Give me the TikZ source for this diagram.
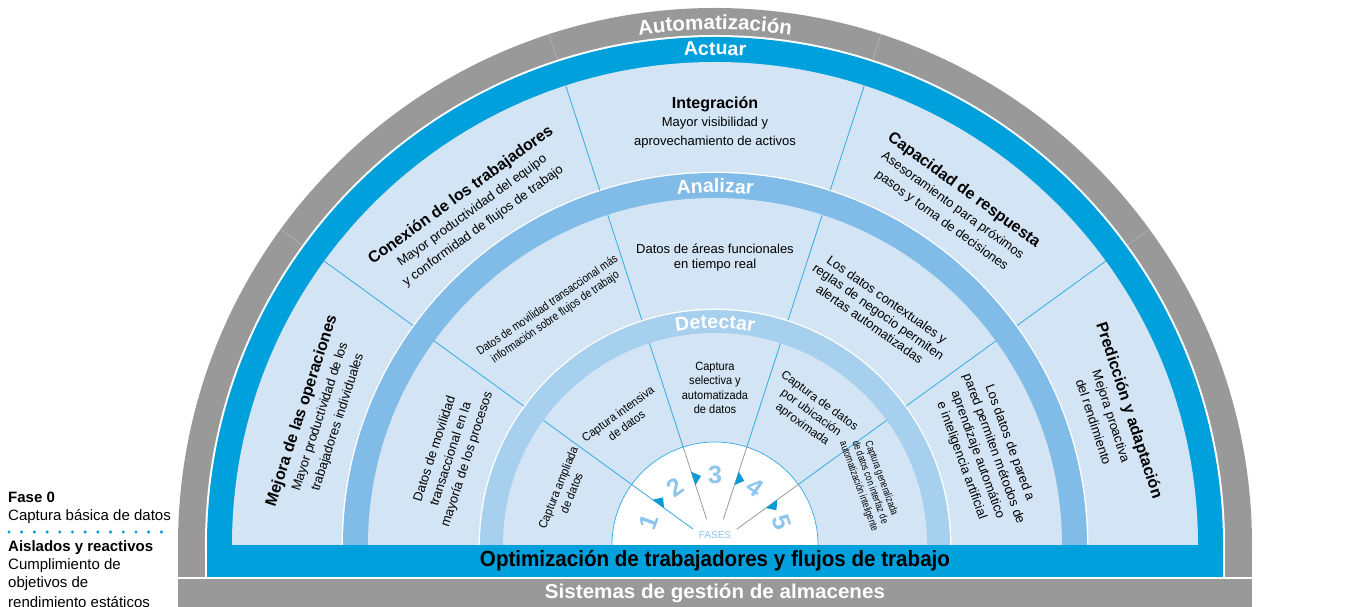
\documentclass[tikz,border=0pt]{standalone}
\usepackage{fontspec}
\usepackage{graphicx}
\setmainfont{Liberation Sans}
\newfontfamily\condfont[FakeStretch=0.83]{Liberation Sans}
\newfontfamily\semifont[FakeStretch=0.92]{Liberation Sans}
\newfontfamily\narrowfont[FakeStretch=0.78]{Liberation Sans}
\usetikzlibrary{decorations.text,calc}
\definecolor{cgray}{HTML}{999999}
\definecolor{cgrayline}{HTML}{B4B4B4}
\definecolor{cblue}{HTML}{00A0DC}
\definecolor{clight}{HTML}{D3E5F5}
\definecolor{cmid}{HTML}{80BCE7}
\definecolor{cdet}{HTML}{A7D0EF}
\definecolor{cdiv}{HTML}{34AAE0}
\definecolor{cnum}{HTML}{8DC6EC}
\definecolor{ctri}{HTML}{0A9AD6}
\newcommand{\hdisc}[2]{\fill[#2] (-#1,0) arc[start angle=180,end angle=0,radius=#1] -- cycle;}
\newcommand{\bandlbl}{\fontsize{19.5}{19.5}\selectfont\bfseries}
\newcommand{\bigband}{\fontsize{20.5}{20.5}\selectfont\bfseries}
\begin{document}
\begin{tikzpicture}[x=1pt,y=1pt,
  outer/.style={align=center,font=\fontsize{13}{18.5}\selectfont},
  midtxt/.style={align=center,font=\fontsize{13}{15}\selectfont},
  midcond/.style={align=center,font=\condfont\fontsize{12}{14}\selectfont},
  inntxt/.style={align=center,font=\semifont\fontsize{12}{14.5}\selectfont},
  innsmall/.style={align=center,font=\narrowfont\fontsize{10.5}{12}\selectfont},
  numtxt/.style={text=cnum,font=\fontsize{25}{25}\selectfont\bfseries},
  divider/.style={draw=cdiv,line width=0.8},
  legend/.style={anchor=west,font=\fontsize{15}{15}\selectfont,inner sep=0}
]
\useasboundingbox (-715,-62) rectangle (652,545);
% rings
\hdisc{537}{cgray}
\fill[cgray] (-537,-32) rectangle (537,0);
\hdisc{510}{white}
\fill[white] (-510,-32) rectangle (510,0);
\hdisc{508}{cblue}
\fill[cblue] (-508,-32) rectangle (508,0);
\hdisc{483}{clight}
\hdisc{373.3}{white}
\hdisc{372}{cmid}
\hdisc{347}{clight}
\hdisc{236.3}{white}
\hdisc{235}{cdet}
\hdisc{212}{clight}
\hdisc{103}{white}
\draw[cdiv,line width=0.7] (-103,0) arc[start angle=180,end angle=0,radius=103];
% bottom bar
\fill[cgray] (-537,-62) rectangle (537,-34);
% dividers
\foreach \a in {36,72,108,144}{
  \draw[cgrayline,line width=0.6] (\a:510) -- (\a:537);
  \draw[divider] (\a:103) -- (\a:212);
  \draw[divider] (\a:236.3) -- (\a:347);
  \draw[divider] (\a:373.3) -- (\a:483);
}
% phase lines
\draw[draw=cdiv,line width=0.8] (144:27) -- (144:103);
\foreach \a in {108,72,36}{\draw[cgray,line width=0.8] (\a:27) -- (\a:103);}
\foreach \a in {144,108,72,36}{
  \fill[ctri] (\a:63) -- (\a:77) -- ($(\a:70)+(\a-90:8)$) -- cycle;
}
% band labels
\path[decorate,decoration={text along path,text align=center,text color=white,text={|\bigband|Automatización}}]
  (112:515.5) arc[start angle=112,end angle=68,radius=515.5];
\path[decorate,decoration={text along path,text align=center,text color=white,text={|\bandlbl|Actuar}}]
  (112:490) arc[start angle=112,end angle=68,radius=490];
\path[decorate,decoration={text along path,text align=center,text color=white,text={|\bandlbl|Analizar}}]
  (120:352.5) arc[start angle=120,end angle=60,radius=352.5];
\path[decorate,decoration={text along path,text align=center,text color=white,text={|\bandlbl|Detectar}}]
  (125:216.5) arc[start angle=125,end angle=55,radius=216.5];
% outer ring texts
\node[outer] (integ) at (90:423) {{\fontsize{16}{18.5}\selectfont\bfseries Integración}\\Mayor visibilidad y\\aprovechamiento de activos};
\node[outer,rotate=36] (conex) at (126:414) {{\fontsize{16}{18.5}\selectfont\bfseries Conexión de los trabajadores}\\Mayor productividad del equipo\\y conformidad de flujos de trabajo};
\node[outer,rotate=-36] (capac) at (55:415) {{\fontsize{16}{18.5}\selectfont\bfseries Capacidad de respuesta}\\Asesoramiento para próximos\\pasos y toma de decisiones};
\node[outer,rotate=72] (mejora) at (162:416) {{\fontsize{16}{18.5}\selectfont\bfseries Mejora de las operaciones}\\Mayor productividad de los\\trabajadores individuales};
\node[outer,rotate=-72] (pred) at (18:418) {{\fontsize{16}{18.5}\selectfont\bfseries Predicción y adaptación}\\Mejora proactiva\\del rendimiento};
% middle ring texts
\node[midtxt] (areas) at (90:287) {Datos de áreas funcionales\\en tiempo real};
\node[midcond,rotate=34.5] (movmas) at (125:285) {Datos de movilidad transaccional más\\información sobre flujos de trabajo};
\node[midtxt,rotate=-35] (contx) at (55:285) {Los datos contextuales y\\reglas de negocio permiten\\alertas automatizadas};
\node[midtxt,rotate=72,font=\fontsize{13}{17}\selectfont] (movil) at (161:279) {Datos de movilidad\\transaccional en la\\mayoría de los procesos};
\node[midtxt,rotate=-70,font=\fontsize{13}{17}\selectfont] (pared) at (19:286) {Los datos de pared a\\pared permiten métodos de\\aprendizaje automático\\e inteligencia artificial};
% inner ring texts
\node[inntxt] (selec) at (90:157) {Captura\\selectiva y\\automatizada\\de datos};
\node[inntxt,rotate=36] (inten) at (126.5:156) {Captura intensiva\\de datos};
\node[inntxt,font=\fontsize{12}{14.5}\selectfont,rotate=-36] (ubic) at (54:163) {Captura de datos\\por ubicación\\aproximada};
\node[inntxt,rotate=68] (ampl) at (160:160) {Captura ampliada\\de datos};
\node[innsmall,rotate=-70] (gener) at (22:167) {Captura generalizada\\de datos con interfaz de\\automatización inteligente};
% phase numbers
\node[numtxt,rotate=70] (n1) at (160.5:70) {1};
\node[numtxt,rotate=35] (n2) at (125:70) {2};
\node[numtxt] (n3) at (90:70) {3};
\node[numtxt,rotate=-35] (n4) at (55:70) {4};
\node[numtxt,rotate=-71] (n5) at (19:71) {5};
\node[text=cnum,font=\fontsize{10}{10}\selectfont] (fases) at (0,10) {FASES};
% bottom bars text
\node (optim) at (0,-16) {\resizebox{470pt}{\height}{\fontsize{22}{22}\selectfont\bfseries Optimización de trabajadores y flujos de trabajo}};
\node[text=white] (sist) at (0,-48) {\resizebox{340pt}{\height}{\fontsize{20}{20}\selectfont\bfseries Sistemas de gestión de almacenes}};
% legend
\node[legend,font=\fontsize{15}{15}\selectfont\bfseries] (f0) at (-707,48) {Fase 0};
\node[legend] (cap0) at (-707,28) {Captura básica de datos};
\foreach \i in {0,...,12}{\fill[ctri] (-706+\i*12.7,13) circle[radius=1.7];}
\node[legend,font=\fontsize{15}{15}\selectfont\bfseries] (ais) at (-707,-3) {Aislados y reactivos};
\node[legend] (c1) at (-707,-21) {Cumplimiento de};
\node[legend] (c2) at (-707,-39) {objetivos de};
\node[legend] (c3) at (-707,-57) {rendimiento estáticos};
\end{tikzpicture}
\end{document}
